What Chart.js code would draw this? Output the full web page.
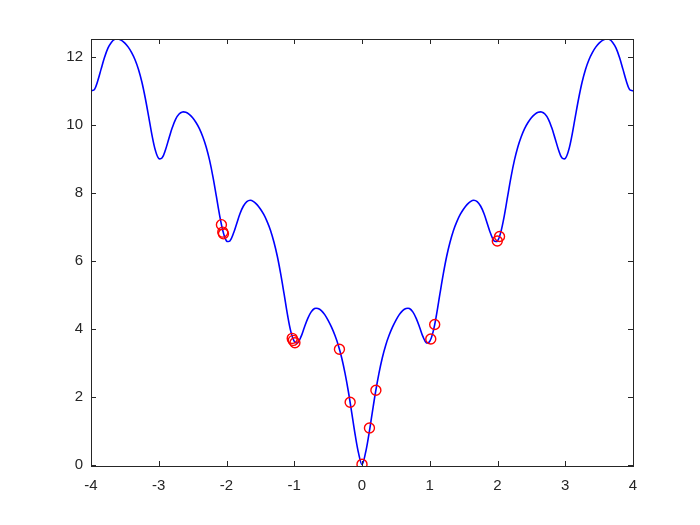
<!DOCTYPE html>
<html lang="en">
<head>
    <meta charset="UTF-8">
    <title>Curve with samples</title>
    <script src="https://cdn.jsdelivr.net/npm/chart.js"></script>
    <style>
        body { margin: 0; background: #fff; }
        #myChart { display: block; }
    </style>
</head>
<body>
    <canvas id="myChart" width="700" height="525"></canvas>

    <script>
        // curve, every 0.05
        const curveX = [
            -4.00, -3.95, -3.90, -3.85, -3.80, -3.75, -3.70, -3.65, -3.60, -3.55,
            -3.50, -3.45, -3.40, -3.35, -3.30, -3.25, -3.20, -3.15, -3.10, -3.05,
            -3.00, -2.95, -2.90, -2.85, -2.80, -2.75, -2.70, -2.65, -2.60, -2.55,
            -2.50, -2.45, -2.40, -2.35, -2.30, -2.25, -2.20, -2.15, -2.10, -2.05,
            -2.00, -1.95, -1.90, -1.85, -1.80, -1.75, -1.70, -1.65, -1.60, -1.55,
            -1.50, -1.45, -1.40, -1.35, -1.30, -1.25, -1.20, -1.15, -1.10, -1.05,
            -1.00, -0.95, -0.90, -0.85, -0.80, -0.75, -0.70, -0.65, -0.60, -0.55,
            -0.50, -0.45, -0.40, -0.35, -0.30, -0.25, -0.20, -0.15, -0.10, -0.05,
            0.00, 0.05, 0.10, 0.15, 0.20, 0.25, 0.30, 0.35, 0.40, 0.45,
            0.50, 0.55, 0.60, 0.65, 0.70, 0.75, 0.80, 0.85, 0.90, 0.95,
            1.00, 1.05, 1.10, 1.15, 1.20, 1.25, 1.30, 1.35, 1.40, 1.45,
            1.50, 1.55, 1.60, 1.65, 1.70, 1.75, 1.80, 1.85, 1.90, 1.95,
            2.00, 2.05, 2.10, 2.15, 2.20, 2.25, 2.30, 2.35, 2.40, 2.45,
            2.50, 2.55, 2.60, 2.65, 2.70, 2.75, 2.80, 2.85, 2.90, 2.95,
            3.00, 3.05, 3.10, 3.15, 3.20, 3.25, 3.30, 3.35, 3.40, 3.45,
            3.50, 3.55, 3.60, 3.65, 3.70, 3.75, 3.80, 3.85, 3.90, 3.95,
            4.00
        ];
        const curveY = [
            11.01, 11.05, 11.31, 11.66, 12.00, 12.27, 12.44, 12.53, 12.54, 12.50,
            12.42, 12.30, 12.14, 11.93, 11.65, 11.28, 10.81, 10.27, 9.71, 9.26,
            9.02, 9.04, 9.28, 9.61, 9.93, 10.18, 10.33, 10.39, 10.38, 10.32,
            10.22, 10.08, 9.90, 9.66, 9.36, 8.97, 8.48, 7.91, 7.33, 6.86,
            6.59, 6.59, 6.80, 7.10, 7.40, 7.62, 7.75, 7.79, 7.75, 7.66,
            7.53, 7.37, 7.16, 6.90, 6.56, 6.14, 5.62, 5.03, 4.42, 3.92,
            3.63, 3.59, 3.77, 4.05, 4.31, 4.50, 4.60, 4.60, 4.54, 4.42,
            4.25, 4.05, 3.81, 3.52, 3.15, 2.69, 2.14, 1.51, 0.87, 0.33,
            0.00, 0.33, 0.87, 1.51, 2.14, 2.69, 3.15, 3.52, 3.81, 4.05,
            4.25, 4.42, 4.54, 4.60, 4.60, 4.50, 4.31, 4.05, 3.77, 3.59,
            3.63, 3.92, 4.42, 5.03, 5.62, 6.14, 6.56, 6.90, 7.16, 7.37,
            7.53, 7.66, 7.75, 7.79, 7.75, 7.62, 7.40, 7.10, 6.80, 6.59,
            6.59, 6.86, 7.33, 7.91, 8.48, 8.97, 9.36, 9.66, 9.90, 10.08,
            10.22, 10.32, 10.38, 10.39, 10.33, 10.18, 9.93, 9.61, 9.28, 9.04,
            9.02, 9.26, 9.71, 10.27, 10.81, 11.28, 11.65, 11.93, 12.14, 12.30,
            12.42, 12.50, 12.54, 12.53, 12.44, 12.27, 12.00, 11.66, 11.31, 11.05,
            11.01
        ];

        // red sample points
        const sampleX = [-2.075, -2.055, -2.045, -1.03, -1.015, -0.99, -0.333, -0.175, 0.0, 0.11, 0.205, 1.015, 1.073, 1.997, 2.03];
        const sampleY = [7.07, 6.85, 6.80, 3.72, 3.66, 3.59, 3.40, 1.84, 0.01, 1.08, 2.19, 3.70, 4.13, 6.59, 6.72];

        const xTicks = [-4, -3, -2, -1, 0, 1, 2, 3, 4];
        const yTicks = [0, 2, 4, 6, 8, 10, 12];

        const axisColor = '#262626';
        const tickFont = { family: 'Liberation Sans, Arial, sans-serif', size: 15 };

        // MATLAB style box with inward ticks on all four sides
        const boxPlugin = {
            id: 'box',
            afterDraw(chart) {
                const { ctx, chartArea: a, scales } = chart;
                const len = 5;
                ctx.save();
                ctx.strokeStyle = axisColor;
                ctx.lineWidth = 1;
                ctx.beginPath();
                xTicks.forEach(v => {
                    const px = Math.round(scales.x.getPixelForValue(v)) + 0.5;
                    ctx.moveTo(px, a.bottom); ctx.lineTo(px, a.bottom - len);
                    ctx.moveTo(px, a.top); ctx.lineTo(px, a.top + len);
                });
                yTicks.forEach(v => {
                    const py = Math.round(scales.y.getPixelForValue(v)) + 0.5;
                    ctx.moveTo(a.left, py); ctx.lineTo(a.left + len, py);
                    ctx.moveTo(a.right, py); ctx.lineTo(a.right - len, py);
                });
                ctx.stroke();
                ctx.strokeRect(Math.round(a.left) + 0.5, Math.round(a.top) + 0.5,
                    Math.round(a.right - a.left), Math.round(a.bottom - a.top));
                ctx.restore();
            }
        };

        const ctx = document.getElementById('myChart').getContext('2d');
        new Chart(ctx, {
            type: 'line',
            data: {
                datasets: [
                    {
                        label: 'samples',
                        data: sampleX.map((x, i) => ({ x: x, y: sampleY[i] })),
                        showLine: false,
                        pointStyle: 'circle',
                        pointRadius: 5,
                        pointBorderWidth: 1.4,
                        pointBorderColor: '#ff0000',
                        pointBackgroundColor: 'rgba(0,0,0,0)'
                    },
                    {
                        label: 'curve',
                        data: curveX.map((x, i) => ({ x: x, y: curveY[i] })),
                        borderColor: '#0000ff',
                        borderWidth: 1.6,
                        pointRadius: 0,
                        tension: 0.35,
                        fill: false
                    }
                ]
            },
            options: {
                responsive: false,
                animation: false,
                layout: { padding: { left: 0, top: 39, right: 67, bottom: 0 } },
                plugins: {
                    legend: { display: false },
                    tooltip: { enabled: false }
                },
                scales: {
                    x: {
                        type: 'linear',
                        min: -4,
                        max: 4,
                        afterFit: s => { s.height = 59; },
                        afterBuildTicks: s => { s.ticks = xTicks.map(v => ({ value: v })); },
                        grid: { display: false, drawTicks: false },
                        border: { display: false },
                        ticks: { color: axisColor, font: tickFont, padding: 11, maxRotation: 0 }
                    },
                    y: {
                        min: -0.04,
                        max: 12.54,
                        afterFit: s => { s.width = 91; },
                        afterBuildTicks: s => { s.ticks = yTicks.map(v => ({ value: v })); },
                        grid: { display: false, drawTicks: false },
                        border: { display: false },
                        ticks: { color: axisColor, font: tickFont, padding: 8 }
                    }
                }
            },
            plugins: [boxPlugin]
        });
    </script>
</body>
</html>
